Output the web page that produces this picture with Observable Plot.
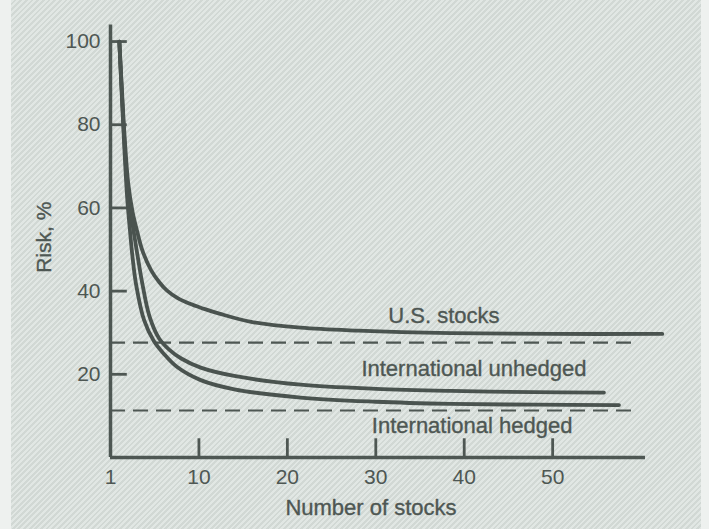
<!DOCTYPE html>
<html>
<head>
<meta charset="utf-8">
<script src="https://cdn.jsdelivr.net/npm/d3@7"></script>
<script src="https://cdn.jsdelivr.net/npm/@observablehq/plot@0.6"></script>
<style>
  html, body { margin: 0; padding: 0; }
  body {
    width: 709px; height: 529px; overflow: hidden; position: relative;
    background-color: #d9e0dc;
    background-image: repeating-linear-gradient(135deg, rgba(255,255,255,0.22) 0px, rgba(255,255,255,0.22) 2px, rgba(0,0,0,0.035) 2px, rgba(0,0,0,0.035) 4px);
    font-family: "Liberation Sans", Arial, sans-serif;
  }
  .edge { position: absolute; top: 0; height: 529px; background: #eef1ef; }
  #chart { position: absolute; left: 0; top: 0; }
</style>
</head>
<body>
<div class="edge" style="left:0;width:11px"></div>
<div class="edge" style="left:701px;width:8px"></div>
<div id="chart"></div>
<script>
// Series: [number of stocks, risk %]
const usStocks = [[1,100],[1.3,88],[1.6,77],[2,66],[2.5,59],[3,54.5],[3.6,49.8],[4.6,45],[5.5,42.2],[6.4,40.1],[7.6,38.3],[8.9,37],[10.5,35.8],[12.3,34.6],[15.9,32.6],[21.5,31.2],[28,30.5],[38.5,29.9],[50,29.7],[62.4,29.7]];
const intlUnhedged = [[1,100],[1.3,87],[1.6,75],[2,63],[2.6,54.6],[3.1,48],[3.6,41.8],[4.4,34],[5.5,28.6],[6.6,26],[8,23.8],[10.2,21.6],[14,19.6],[21.5,17.5],[30,16.5],[38.5,16],[48,15.7],[55.8,15.6]];
const intlHedged = [[1,100],[1.3,86],[1.6,73],[1.9,62],[2.2,54.6],[2.5,48],[2.9,41.5],[3.8,33],[4.9,28],[6,25],[7.5,21.8],[10.2,18.6],[14,16.4],[21.5,14.4],[30,13.4],[38.5,12.9],[48,12.7],[57.5,12.6]];
const seriesNames = ["U.S. stocks", "International unhedged", "International hedged"];
const seriesData = [usStocks, intlUnhedged, intlHedged];
const labelPos = [[37.7, 34.1], [41.1, 21.2], [40.9, 7.7]];
const dashedLevels = [27.6, 11.3];
const dashedEnd = 59.5;
const yTicks = [20, 40, 60, 80, 100];
const xTickValues = [0, 10, 20, 30, 40, 50];
const xTickLabels = ["1", "10", "20", "30", "40", "50"];
const xMax = 60.5, yMax = 104;

const rows = seriesData.flatMap((s, i) => s.map(([x, y]) => ({series: seriesNames[i], x, y})));
const labels = seriesNames.map((name, i) => ({name, x: labelPos[i][0], y: labelPos[i][1]}));

const ink = "#4e5753";
const font = "'Liberation Sans', Arial, sans-serif";

const chart = Plot.plot({
  width: 709,
  height: 529,
  marginLeft: 110,
  marginRight: 64,
  marginTop: 24.4,
  marginBottom: 72,
  style: {background: "transparent", fontFamily: font, color: ink},
  x: {domain: [0, xMax]},
  y: {domain: [0, yMax]},
  marks: [
    // y tick labels
    Plot.axisY({ticks: yTicks, tickSize: 0, tickPadding: 10, fontSize: 21, label: null, fill: ink, stroke: ink, strokeWidth: 0.35}),
    // x tick labels
    Plot.axisX({ticks: xTickValues, tickFormat: (d, i) => xTickLabels[i], tickSize: 0, tickPadding: 12, fontSize: 21, label: null, fill: ink, stroke: ink, strokeWidth: 0.35}),
    // inward ticks
    Plot.ruleY(yTicks, {y: d => d, x1: 0, x2: 1.9, stroke: ink, strokeWidth: 2.8}),
    Plot.ruleX(xTickValues.slice(1), {x: d => d, y1: 0, y2: 4.5, stroke: ink, strokeWidth: 2.8}),
    // dashed reference lines
    Plot.ruleY(dashedLevels, {y: d => d, x1: 0, x2: dashedEnd, stroke: ink, strokeWidth: 2.2, strokeDasharray: "15,8"}),
    // curves
    Plot.line(rows, {x: "x", y: "y", z: "series", curve: "catmull-rom", stroke: "#4a534f", strokeWidth: 3.8}),
    // axes lines
    Plot.ruleX([0], {y1: 0, y2: yMax, stroke: ink, strokeWidth: 3.5}),
    Plot.ruleY([0], {x1: 0, x2: xMax, stroke: ink, strokeWidth: 3.5}),
    // series labels
    Plot.text(labels, {x: "x", y: "y", text: "name", fontSize: 22, fill: ink, stroke: ink, strokeWidth: 0.35, textAnchor: "middle"}),
    // axis titles
    Plot.text(["Number of stocks"], {frameAnchor: "bottom", lineAnchor: "middle", dy: 50, dx: -7, fontSize: 22, fill: ink, stroke: ink, strokeWidth: 0.35}),
    Plot.text(["Risk, %"], {frameAnchor: "left", rotate: -90, textAnchor: "middle", lineAnchor: "middle", dx: -66, dy: -4, fontSize: 21, fill: ink, stroke: ink, strokeWidth: 0.35})
  ]
});
document.getElementById("chart").appendChild(chart);
</script>
</body>
</html>
